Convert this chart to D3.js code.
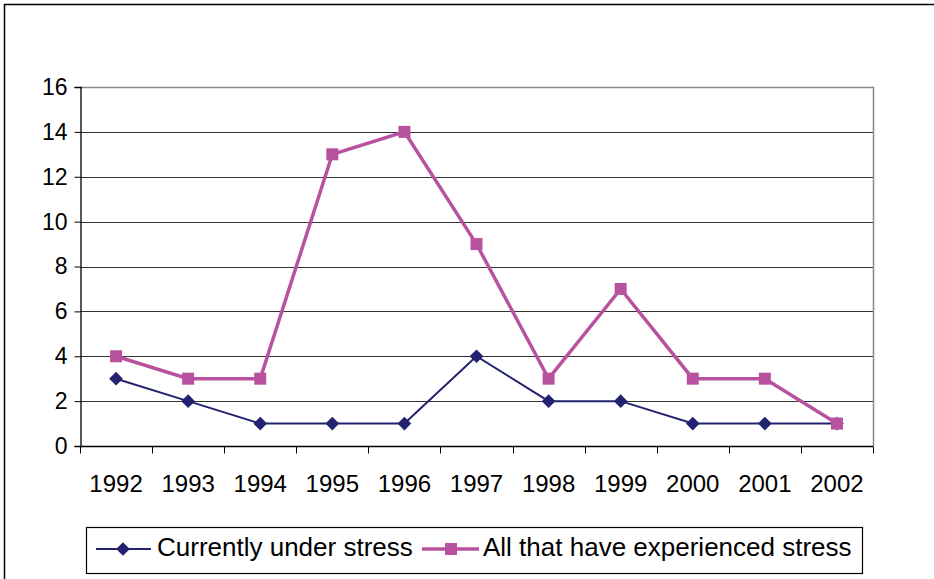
<!DOCTYPE html>
<html>
<head>
<meta charset="utf-8">
<script src="https://cdn.jsdelivr.net/npm/d3@7"></script>
<style>
  body { margin: 0; background: #fff; }
  svg { font-family: "Liberation Sans", Arial, sans-serif; }
</style>
</head>
<body>
<svg id="chart" width="934" height="579"></svg>
<script>
// chart data
const years = ["1992","1993","1994","1995","1996","1997","1998","1999","2000","2001","2002"]
const currentStress = [3, 2, 1, 1, 1, 4, 2, 2, 1, 1, 1]
const everStress = [4, 3, 3, 13, 14, 9, 3, 7, 3, 3, 1]
const yTicks = [0, 2, 4, 6, 8, 10, 12, 14, 16]
const seriesNames = ["Currently under stress", "All that have experienced stress"]

const navy = "#222270"
const pink = "#b8529f"

const svg = d3.select("#chart")

// outer frame (cut at right/bottom like the picture)
svg.append("rect")
    .attr("x", 4.5).attr("y", 4.5)
    .attr("width", 940).attr("height", 590)
    .attr("fill", "none").attr("stroke", "#000").attr("stroke-width", 1.5)

const pLeft = 80, pRight = 873, pTop = 87, pBottom = 446

const x = d3.scaleBand().domain(years).range([pLeft, pRight]).padding(0)
const y = d3.scaleLinear().domain([0, 16]).range([pBottom, pTop])

const g = svg.append("g")

// gridlines
g.append("g")
    .selectAll("line")
    .data(yTicks.filter(d => d > 0 && d < 16))
    .join("line")
    .attr("x1", pLeft).attr("x2", pRight)
    .attr("y1", d => Math.round(y(d)) + 0.5).attr("y2", d => Math.round(y(d)) + 0.5)
    .attr("stroke", "#333").attr("stroke-width", 1.2)

// plot border top and right (gray)
g.append("path")
    .attr("d", `M${pLeft},${pTop + 0.5}H${pRight + 0.5}V${pBottom}`)
    .attr("fill", "none").attr("stroke", "#888").attr("stroke-width", 1.5)

// y axis
const yAxis = g.append("g")
    .attr("transform", `translate(${pLeft + 0.5},0)`)
    .call(d3.axisLeft(y).tickValues(yTicks).tickSize(6).tickPadding(4))
yAxis.select(".domain").attr("stroke", "#000").attr("stroke-width", 1.3)
yAxis.selectAll(".tick line").attr("stroke", "#000")
yAxis.selectAll("text").attr("font-size", 23).attr("fill", "#000")
    .attr("font-family", "Liberation Sans, Arial, sans-serif").attr("dx", -3)

// x axis with ticks at category boundaries
const xg = g.append("g").attr("transform", `translate(0,${pBottom + 0.5})`)
xg.append("line").attr("x1", pLeft).attr("x2", pRight).attr("stroke", "#000").attr("stroke-width", 1.3)
const edges = years.map(d => x(d)).concat([pRight])
xg.selectAll(".xt")
    .data(edges)
    .join("line")
    .attr("class", "xt")
    .attr("x1", d => Math.round(d) + 0.5)
    .attr("x2", d => Math.round(d) + 0.5)
    .attr("y1", 0).attr("y2", 7)
    .attr("stroke", "#000")
xg.selectAll("text")
    .data(years)
    .join("text")
    .attr("x", d => x(d) + x.bandwidth() / 2)
    .attr("y", 45)
    .attr("text-anchor", "middle")
    .attr("font-size", 24)
    .text(d => d)

const cx = d => x(d) + x.bandwidth() / 2
const line = d3.line().x((d, i) => cx(years[i])).y(d => y(d))

// series 1: navy with diamonds
g.append("path")
    .datum(currentStress)
    .attr("d", line)
    .attr("fill", "none").attr("stroke", navy).attr("stroke-width", 2)
const diamond = d3.symbol().type(d3.symbolDiamond2).size(120)
g.append("g")
    .selectAll("path")
    .data(currentStress)
    .join("path")
    .attr("transform", (d, i) => `translate(${cx(years[i])},${y(d)})`)
    .attr("d", diamond)
    .attr("fill", navy)

// series 2: pink with squares
g.append("path")
    .datum(everStress)
    .attr("d", line)
    .attr("fill", "none").attr("stroke", pink).attr("stroke-width", 3.5)
g.append("g")
    .selectAll("rect")
    .data(everStress)
    .join("rect")
    .attr("x", (d, i) => cx(years[i]) - 6)
    .attr("y", d => y(d) - 6)
    .attr("width", 12).attr("height", 12)
    .attr("fill", pink)

// legend
const lg = svg.append("g")
lg.append("rect")
    .attr("x", 86.5).attr("y", 527.5).attr("width", 776).attr("height", 46)
    .attr("fill", "#fff").attr("stroke", "#000").attr("stroke-width", 1.2)

const leg1 = lg.append("g").attr("transform", "translate(96,549)")
leg1.append("line").attr("x1", 0).attr("x2", 55).attr("stroke", navy).attr("stroke-width", 2)
leg1.append("path").attr("transform", "translate(27,0)").attr("d", diamond).attr("fill", navy)
leg1.append("text").attr("x", 61).attr("y", 7).attr("font-size", 26).text(seriesNames[0])

const leg2 = lg.append("g").attr("transform", "translate(422,549)")
leg2.append("line").attr("x1", 0).attr("x2", 57).attr("stroke", pink).attr("stroke-width", 3.5)
leg2.append("rect").attr("x", 23).attr("y", -6).attr("width", 12).attr("height", 12).attr("fill", pink)
leg2.append("text").attr("x", 61).attr("y", 7).attr("font-size", 26).text(seriesNames[1])
</script>
</body>
</html>
